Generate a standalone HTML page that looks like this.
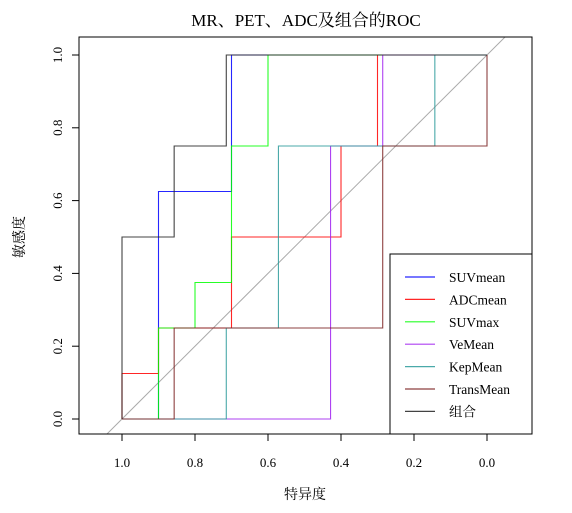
<!DOCTYPE html>
<html><head><meta charset="utf-8"><style>
body{margin:0;background:#fff}
svg{display:block;font-family:"Liberation Serif","Noto Serif CJK SC",serif}
</style></head><body>
<svg id="chart" width="572" height="513" viewBox="0 0 572 513">
<text x="306" y="26" font-size="17" text-anchor="middle">MR、PET、ADC及组合的ROC</text>
<defs><clipPath id="clip"><rect x="79" y="37" width="453" height="397"/></clipPath></defs>
<g id="plot" clip-path="url(#clip)"></g>
<rect x="79" y="37" width="453" height="397" fill="none" stroke="#000"/>
<g id="axes"></g>
<text x="305" y="499" font-size="14" text-anchor="middle">特异度</text>
<text transform="translate(24,237) rotate(-90)" font-size="14" text-anchor="middle">敏感度</text>
<g id="legend"></g>
</svg>
<script>
const seriesNames=["SUVmean","ADCmean","SUVmax","VeMean","KepMean","TransMean","组合"];
const seriesColors=["#0000ff","#ff0000","#00ff00","#a020f0","#2a9a9a","#7a1f1f","#222222"];
const specSUVmean=[1,0.9,0.9,0.7,0.7,0];
const sensSUVmean=[0,0,0.625,0.625,1,1];
const specADCmean=[1,1,0.9,0.9,0.7,0.7,0.4,0.4,0.3,0.3,0];
const sensADCmean=[0,0.125,0.125,0.25,0.25,0.5,0.5,0.75,0.75,1,1];
const specSUVmax=[1,0.9,0.9,0.8,0.8,0.7,0.7,0.6,0.6,0];
const sensSUVmax=[0,0,0.25,0.25,0.375,0.375,0.75,0.75,1,1];
const specVeMean=[1,0.4286,0.4286,0.2857,0.2857,0];
const sensVeMean=[0,0,0.75,0.75,1,1];
const specKepMean=[1,0.7143,0.7143,0.5714,0.5714,0.1429,0.1429,0];
const sensKepMean=[0,0,0.25,0.25,0.75,0.75,1,1];
const specTransMean=[1,0.8571,0.8571,0.2857,0.2857,0,0];
const sensTransMean=[0,0,0.25,0.25,0.75,0.75,1];
const specCombo=[1,1,0.8571,0.8571,0.7143,0.7143,0];
const sensCombo=[0,0.5,0.5,0.75,0.75,1,1];
const xTicks=[1.0,0.8,0.6,0.4,0.2,0.0];
const yTicks=[0.0,0.2,0.4,0.6,0.8,1.0];
const NS="http://www.w3.org/2000/svg";
const xs=v=>487-v*365, ys=v=>419-v*364;
const plot=document.getElementById('plot'),axes=document.getElementById('axes'),legend=document.getElementById('legend');
function mk(tag,at,parent){const e=document.createElementNS(NS,tag);for(const k in at)e.setAttribute(k,at[k]);parent.appendChild(e);return e;}
// diagonal
const diag=mk('line',{x1:xs(1.2),y1:ys(-0.2),x2:xs(-0.2),y2:ys(1.2),stroke:'#aaa','stroke-width':1},plot);


const specs=[specSUVmean,specADCmean,specSUVmax,specVeMean,specKepMean,specTransMean,specCombo];
const senss=[sensSUVmean,sensADCmean,sensSUVmax,sensVeMean,sensKepMean,sensTransMean,sensCombo];
const keys=["suvmean","adcmean","suvmax","vemean","kepmean","transmean","combined"];
specs.forEach((sp,i)=>{
  const pts=sp.map((s,j)=>xs(s)+','+ys(senss[i][j])).join(' ');
  const pl=mk('polyline',{points:pts,fill:'none',stroke:seriesColors[i],'stroke-width':1.1,'stroke-opacity':0.85},plot);
  
  
});
xTicks.forEach(t=>{
  mk('line',{x1:xs(t),y1:434,x2:xs(t),y2:441,stroke:'#000'},axes);
  const tx=mk('text',{x:xs(t),y:467,'font-size':13,'text-anchor':'middle'},axes);
  tx.textContent=t.toFixed(1);
  
  
});
mk('line',{x1:xs(1),y1:441,x2:xs(0),y2:441,stroke:'#000'},axes).remove();
yTicks.forEach(t=>{
  mk('line',{x1:72,y1:ys(t),x2:79,y2:ys(t),stroke:'#000'},axes);
  const tx=mk('text',{transform:`translate(62,${ys(t)}) rotate(-90)`,'font-size':13,'text-anchor':'middle'},axes);
  tx.textContent=t.toFixed(1);
  
  
});
const lb=mk('rect',{x:390,y:254,width:142,height:180,fill:'#fff',stroke:'#000'},legend);


seriesNames.forEach((n,i)=>{
  const y=277+i*22.4;
  const g=mk('g',{},legend);
  
  
  mk('line',{x1:405,y1:y,x2:435,y2:y,stroke:seriesColors[i],'stroke-width':1.2,'stroke-opacity':0.85},g);
  const t=mk('text',{x:449,y:y+5,'font-size':13.5},g);t.textContent=n;
});
</script>
</body></html>
